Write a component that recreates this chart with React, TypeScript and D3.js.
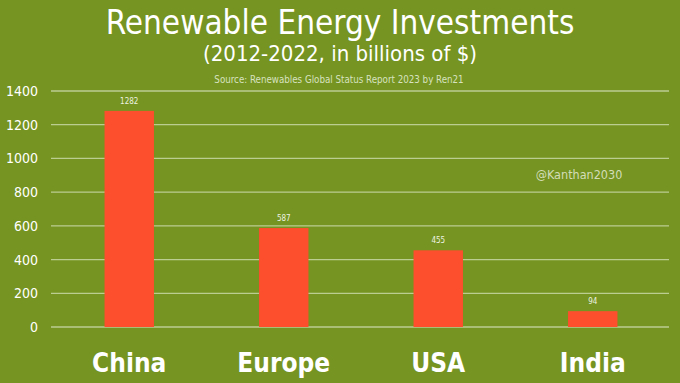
import React from "react";
import * as d3 from "d3";

const categories = ["China", "Europe", "USA", "India"];
const values = [1282, 587, 455, 94];
const yTicks = [0, 200, 400, 600, 800, 1000, 1200, 1400];

const W = 680;
const H = 383;
const BG = "#759421";
const BAR = "#fd4f2d";
const FONT = "'DejaVu Sans Condensed', 'DejaVu Sans', sans-serif";

export default function App() {
  const x = d3.scaleBand<string>().domain(categories).range([52, 670]).paddingInner(0.68).paddingOuter(0.34);
  const y = d3.scaleLinear().domain([0, 1400]).range([327, 91]);
  return (
    <svg width={W} height={H} style={{ position: "absolute", left: 0, top: 0, display: "block" }}>
      <rect x={0} y={0} width={W} height={H} fill={BG} />
      <text x={340} y={34} textAnchor="middle" fill="#fff" fontFamily={FONT} fontSize={33}>
        Renewable Energy Investments
      </text>
      <text x={340} y={61} textAnchor="middle" fill="#fff" fontFamily={FONT} fontSize={22}>
        (2012-2022, in billions of $)
      </text>
      <text x={339} y={83} textAnchor="middle" fill="#d8e2c0" fontFamily={FONT} fontSize={9.7}>
        Source: Renewables Global Status Report 2023 by Ren21
      </text>
      {yTicks.map((t) => (
        <g key={t}>
          <line x1={51} x2={669} y1={y(t)} y2={y(t)} stroke="#bccd92" strokeWidth={1.3} />
          <text x={38} y={y(t) + 5} textAnchor="end" fill="#fff" fontFamily={FONT} fontSize={14}>
            {t}
          </text>
        </g>
      ))}
      {categories.map((c, i) => (
        <g key={c}>
          <rect x={x(c)} y={y(values[i])} width={x.bandwidth()} height={y(0) - y(values[i])} fill={BAR} />
          <text x={(x(c) as number) + x.bandwidth() / 2} y={y(values[i]) - 7} textAnchor="middle" fill="#eef2e2" fontFamily={FONT} fontSize={8}>
            {values[i]}
          </text>
          <text x={(x(c) as number) + x.bandwidth() / 2} y={372} textAnchor="middle" fill="#fff" fontFamily={FONT} fontSize={26} fontWeight="bold">
            {c}
          </text>
        </g>
      ))}
      <text x={579} y={179} textAnchor="middle" fill="#d3ddb8" fontFamily={FONT} fontSize={12.5}>
        @Kanthan2030
      </text>
    </svg>
  );
}
